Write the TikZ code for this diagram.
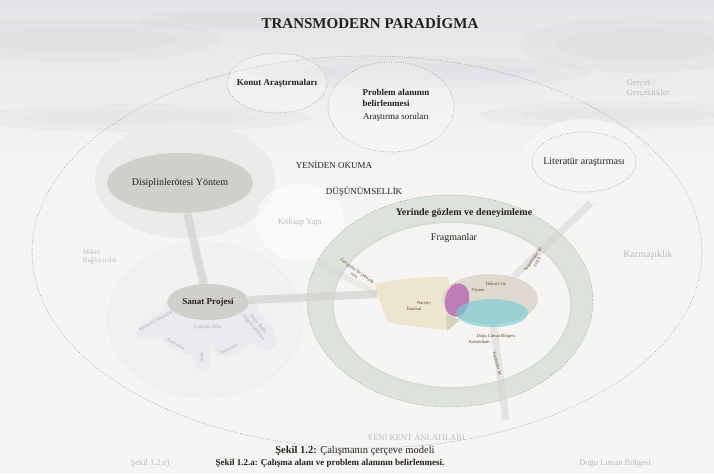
\documentclass[tikz,border=0pt]{standalone}
\usepackage{fontspec}
\setmainfont{Liberation Serif}
\usepackage{xcolor}
\usepackage{tikz}
\usetikzlibrary{shapes, positioning, calc, backgrounds}
\definecolor{paper}{RGB}{246, 245, 243}
\definecolor{skygray}{RGB}{228, 228, 232}
\definecolor{cloudgray}{RGB}{205, 205, 210}
\definecolor{blobgray}{RGB}{236, 235, 234}
\definecolor{petalgray}{RGB}{233, 235, 238}
\definecolor{stemgray}{RGB}{210, 209, 206}
\definecolor{methodgray}{RGB}{208, 207, 204}
\definecolor{ringgreen}{RGB}{221, 227, 219}
\definecolor{bodybeige}{RGB}{237, 229, 206}
\definecolor{headtan}{RGB}{224, 217, 208}
\definecolor{purplish}{RGB}{176, 96, 172}
\definecolor{cyanish}{RGB}{118, 204, 210}
\definecolor{olivegray}{RGB}{212, 210, 186}
\definecolor{fadedtext}{RGB}{188, 188, 190}
\definecolor{inktext}{RGB}{36, 32, 30}
\definecolor{birdtext}{RGB}{92, 70, 40}
\pgfdeclarelayer{bg}
\pgfdeclarelayer{stems}
\pgfsetlayers{bg,stems,main}

\begin{document}
\begin{tikzpicture}[
					x=1pt, y=-1pt,
					headline/.style={font=\fontsize{15}{17}\selectfont\bfseries, text=inktext},
					txt/.style={font=\fontsize{9}{10.5}\selectfont, text=inktext, align=left, inner sep=1pt},
					boldtxt/.style={txt, font=\fontsize{9}{10.5}\selectfont\bfseries},
					faint/.style={font=\fontsize{8.5}{10}\selectfont, text=fadedtext, align=left, inner sep=1pt},
					petaltxt/.style={font=\fontsize{5}{5.5}\selectfont, text=fadedtext!90!black, align=center, inner sep=0.3pt},
					birdtxt/.style={font=\fontsize{4.6}{5}\selectfont, text=birdtext, align=center, inner sep=0.3pt},
					dots/.style={draw=gray!80, line width=0.9pt, line cap=round, dash pattern=on 0pt off 2.4pt},
					strip/.style={line width=8pt, draw=stemgray, opacity=0.7},
					blob/.style={ellipse, fill=blobgray, draw=gray!15}
				]
				\useasboundingbox (0,0) rectangle (714,474);

				% 0. Paper, sky and clouds
				\begin{pgfonlayer}{bg}
				\fill[paper] (0,0) rectangle (714,474);
				\shade[top color=skygray, bottom color=paper] (0,0) rectangle (714,170);
				\foreach \cx/\cy/\rx/\ry in {80/40/140/22, 640/45/120/28, 140/118/170/14, 620/115/140/14, 420/72/170/16, 250/20/110/12}{
					\fill[cloudgray, opacity=0.14] (\cx,\cy) ellipse (\rx pt and \ry pt);
					\fill[cloudgray, opacity=0.12] (\cx,\cy) ellipse (0.7*\rx pt and 0.55*\ry pt);
				}

				% 1. Outer paradigm
				\draw[dots] (367,252) ellipse (335 and 196);

				% 2. Soft areas round method and art project
				\node[blob, minimum width=180, minimum height=116] (methodarea) at (185,180) {};
				\node[blob, fill=white, fill opacity=0.45, minimum width=90, minimum height=80] (rhizome) at (300,222) {};
				\node[blob, fill=paper!60!petalgray, minimum width=196, minimum height=156] (projectarea) at (205,320) {};
				\fill[petalgray, draw=gray!12] (210,316) ellipse (50 and 30);
				\fill[petalgray, draw=gray!12, rotate around={30:(160,324)}] (160,324) ellipse (27 and 10);
				\fill[petalgray, draw=gray!12, rotate around={-30:(178,342)}] (178,342) ellipse (20 and 9);
				\fill[petalgray, draw=gray!12] (202,352) ellipse (9 and 20);
				\fill[petalgray, draw=gray!12, rotate around={25:(232,345)}] (232,345) ellipse (20 and 9);
				\fill[petalgray, draw=gray!12, rotate around={-50:(255,327)}] (255,327) ellipse (28 and 14);

				% 3. Literature and research circles
				\node[blob, fill=paper, minimum width=130, minimum height=86] (litarea) at (584,162) {};
				\fill[white, opacity=0.25] (277,83) ellipse (50 and 30);
				\fill[white, opacity=0.25] (391,107) ellipse (63 and 45);

				% 4. Field work ring
				\fill[ringgreen] (450,301) ellipse (143 and 106);
				\fill[paper] (452,305) ellipse (118 and 82);
				\draw[ringgreen!85!gray, line width=2pt, opacity=0.4] (452,305) ellipse (119 and 83);
				\draw[dots] (450,301) ellipse (143 and 106);
				\end{pgfonlayer}

				\draw[dots] (277,83) ellipse (50 and 30);
				\draw[dots] (391,107) ellipse (63 and 45);
				\draw[dots] (584,162) ellipse (52 and 30);

				% 5. Method and art project
				\node[ellipse, fill=methodgray, minimum width=124, minimum height=60, font=\fontsize{10}{12}\selectfont, text=inktext] (yontem) at (180,183) {Disiplinlerötesi Yöntem};
				\node[ellipse, fill=methodgray, minimum width=76, minimum height=36, font=\fontsize{9}{11}\selectfont\bfseries, text=inktext] (sanat) at (208,302) {Sanat Projesi};

				% 6. Bird of fragments
				\coordinate (tail) at (377,294);
				\coordinate (wingtip) at (591,203);
				\coordinate (foot) at (506,420);
				\coordinate (beak) at (318,262);
				\fill[bodybeige] (375,284) .. controls (400,279) and (425,276) .. (448,277) -- (452,300) -- (448,330) .. controls (425,328) and (400,325) .. (388,322) .. controls (382,308) and (378,296) .. cycle;
				\node[ellipse, fill=headtan, minimum width=96, minimum height=50, inner sep=0pt] (head) at (490,299) {};
				\fill[purplish, opacity=0.75, rotate around={-12:(457,300)}] (457,300) ellipse (12 and 17);
				\fill[cyanish, opacity=0.65] (492,313) ellipse (36 and 14);
				\fill[olivegray] (446,314) -- (460,320) -- (447,331) -- cycle;

				\begin{pgfonlayer}{stems}
				\draw[strip] (yontem) -- (sanat);
				\draw[strip] (sanat) -- (tail);
				\draw[strip, line width=7pt, opacity=0.45] (head) -- (wingtip);
				\draw[strip, line width=7pt, opacity=0.45] (head) -- (foot);
				\draw[strip, line width=6pt, opacity=0.3] (tail) -- (beak);
				\end{pgfonlayer}

				% 7. Texts
				\node[headline] (title) at (370,22) {TRANSMODERN PARADİGMA};
				\node[boldtxt] (konut) at (277,83) {Konut Araştırmaları};
				\node[boldtxt] (problem) at (396,98) {Problem alanının\\belirlenmesi};
				\node[txt, below=4pt of problem.south] (sorular) {Araştırma soruları};
				\node[txt] (okuma) at (334,165) {YENİDEN OKUMA};
				\node[txt] (dusunum) at (364,192) {DÜŞÜNÜMSELLİK};
				\node[txt, font=\fontsize{10}{12}\selectfont] (literatur) at (584,162) {Literatür araştırması};
				\node[boldtxt, font=\fontsize{10}{12}\selectfont\bfseries] (yerinde) at (464,213) {Yerinde gözlem ve deneyimleme};
				\node[txt, font=\fontsize{10}{12}\selectfont] (fragman) at (454,238) {Fragmanlar};

				\node[faint] (gercek) at (648,88) {Gerçek /\\Gerçeklikler};
				\node[faint, font=\fontsize{10}{12}\selectfont] (karmasik) at (648,255) {Karmaşıklık};
				\node[faint] (koksap) at (300,222) {Köksap Yapı};
				\node[faint, font=\fontsize{7}{8}\selectfont] (mikro) at (100,257) {Mikro\\Bağlayıcılık};
				\node[faint] (yenikent) at (416,437) {YENİ KENT ANLATILARI};

				\node[petaltxt, rotate=30] (kentsel) at (156,321) {Kentsel Çalışmalar};
				\node[petaltxt] (ofis) at (208,327) {Çalışma Ofisi};
				\node[petaltxt, rotate=-30] (asistan1) at (176,344) {Asistanlar};
				\node[petaltxt, rotate=90] (aday) at (202,357) {Aday};
				\node[petaltxt, rotate=25] (asistan2) at (229,349) {Asistanlar};
				\node[petaltxt, rotate=-50] (ekip) at (256,326) {Proje Ekibi\\bilgi kaynakları};

				\node[birdtxt, rotate=-35] (yuruyus) at (356,273) {Gezginler ile yürüyüş\\rota};
				\node[birdtxt, rotate=55] (yazili) at (535,261) {Yaşanmışlar ile\\yazılı};
				\node[birdtxt, rotate=-75] (soylesi) at (497,364) {Söyleşiler ile};
				\node[birdtxt] (narcity) at (424,303) {Narcity};
				\node[birdtxt] (istanbul) at (414,309) {İstanbul};
				\node[birdtxt] (dubai) at (496,284) {Dubai City};
				\node[birdtxt] (viyana) at (478,290) {Viyana};
				\node[birdtxt] (doguliman) at (496,336) {Doğu Liman Bölgesi};
				\node[birdtxt] (amsterdam) at (479,342) {Amsterdam};

				% 8. Caption
				\node[txt, font=\fontsize{10.5}{12}\selectfont] (caption) at (355,451) {\textbf{Şekil 1.2:} Çalışmanın çerçeve modeli};
				\node[txt, font=\fontsize{9}{10}\selectfont\bfseries] (subcaption) at (330,463) {Şekil 1.2.a: Çalışma alanı ve problem alanının belirlenmesi.};
				\node[faint] (subleft) at (150,463) {Şekil 1.2.e)};
				\node[faint] (subright) at (615,463) {Doğu Liman Bölgesi};

			\end{tikzpicture}
\end{document}
